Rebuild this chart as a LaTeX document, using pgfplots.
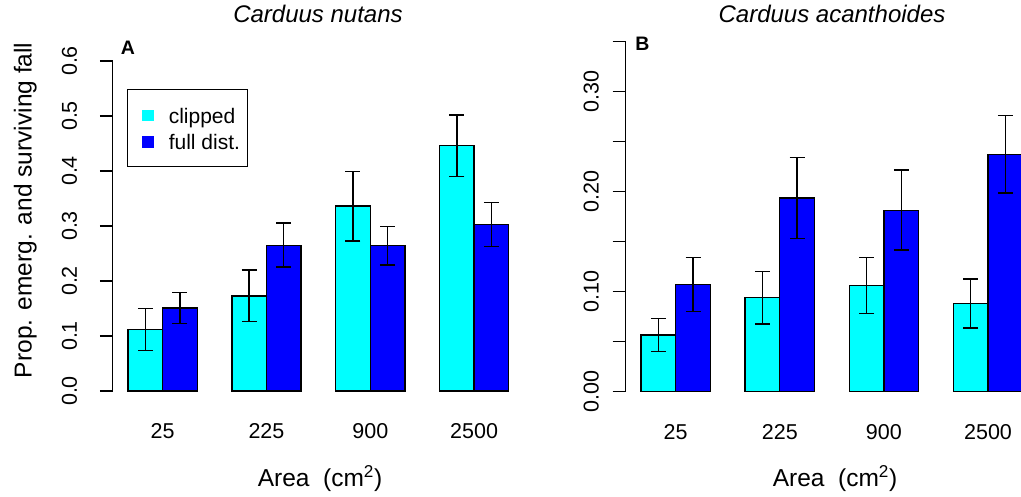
\documentclass[border=0pt]{standalone}
\usepackage{fontspec}
\setmainfont{Liberation Sans}
\usepackage{pgfplots}
\pgfplotsset{compat=1.18}
\definecolor{rcyan}{RGB}{0,255,255}
\definecolor{rblue}{RGB}{0,0,255}

\pgfplotsset{
  rpanel/.style={
    scale only axis, clip=false,
    xmin=0.56, xmax=12.44, ymin=0,
    axis x line=bottom, axis y line=left,
    x axis line style={draw=none},
    y axis line style={-, line width=1.4pt, black},
    xtick={2,5,8,11}, xticklabels={25,225,900,2500},
    xtick style={draw=none},
    ytick style={line width=1.4pt, black},
    tick align=outside, major tick length=13pt,
    tick label style={font=\fontsize{21.5}{25}\selectfont},
    xticklabel style={anchor=base, yshift=-34.8pt},
    xlabel={Area\ \ (cm\textsuperscript{2})},
    label style={font=\fontsize{24.5}{28}\selectfont},
    title style={anchor=base, font=\fontsize{24}{28}\selectfont\itshape},
  },
  rbar/.style={ybar, bar width=1, bar shift=0pt, draw=black, line width=1.4pt,
    error bars/y dir=both, error bars/y explicit,
    error bars/error bar style={line width=1.5pt, solid, draw=black},
    error bars/error mark options={rotate=90, line width=1.5pt, black, mark size=7.5pt}},
}

\begin{document}
\begin{tikzpicture}
% panel A
\begin{axis}[rpanel, at={(112.76pt,106pt)}, anchor=south west,
  width=411.2pt, height=330pt, ymax=0.6,
  ytick={0,0.1,0.2,0.3,0.4,0.5,0.6},
  yticklabels={0.0,0.1,0.2,0.3,0.4,0.5,0.6},
  yticklabel style={xshift=-22.8pt, rotate=90, anchor=base},
  title={Carduus nutans},
  title style={at={(axis description cs:0.4991,1.0991)}},
  ylabel={Prop. emerg. and surviving fall},
  ylabel style={at={(axis description cs:-0.1976,0.5476)}, anchor=base},
  xlabel style={at={(axis description cs:0.504,-0.29)}, anchor=base},
  legend cell align=left,
  legend style={at={(axis description cs:0.0339,0.915)}, anchor=north west,
    draw=black, line width=1.4pt, fill=white,
    font=\fontsize{21}{25}\selectfont,
    inner xsep=7.5pt, inner ysep=12.3pt, row sep=1pt, column sep=15pt,
    nodes={inner sep=0pt, text height=21pt, text depth=4.5pt, anchor=base west}},
]
\addplot[rbar, fill=rcyan,
  legend image code/.code={\path (-7.5pt,0pt); \fill[rcyan] (0pt,2.5pt) rectangle (10pt,12.5pt);}]
  coordinates {(1.5,0.112) +- (0,0.038) (4.5,0.173) +- (0,0.047)
               (7.5,0.336) +- (0,0.063) (10.5,0.446) +- (0,0.056)};
\addlegendentry{clipped}
\addplot[rbar, fill=rblue,
  legend image code/.code={\path (-7.5pt,0pt); \fill[rblue] (0pt,2.5pt) rectangle (10pt,12.5pt);}]
  coordinates {(2.5,0.151) +- (0,0.028) (5.5,0.265) +- (0,0.040)
               (8.5,0.264) +- (0,0.035) (11.5,0.303) +- (0,0.040)};
\addlegendentry{full dist.}
\node[anchor=base, font=\fontsize{19.5}{23}\selectfont\bfseries] at (axis cs:1,0.611) {A};
\end{axis}
% panel B
\begin{axis}[rpanel, at={(625.7pt,105.7pt)}, anchor=south west,
  width=412.3pt, height=349.6pt, ymax=0.35,
  ytick={0,0.05,0.1,0.15,0.2,0.25,0.3,0.35},
  yticklabels={0.00,,0.10,,0.20,,0.30,},
  yticklabel style={xshift=-14pt, rotate=90, anchor=base},
  title={Carduus acanthoides},
  title style={at={(axis description cs:0.5004,1.0383)}},
  xlabel style={at={(axis description cs:0.5076,-0.2729)}, anchor=base},
]
\addplot[rbar, fill=rcyan]
  coordinates {(1.5,0.0563) +- (0,0.0167) (4.5,0.0937) +- (0,0.0263)
               (7.5,0.106) +- (0,0.028) (10.5,0.0877) +- (0,0.0245)};
\addplot[rbar, fill=rblue]
  coordinates {(2.5,0.1067) +- (0,0.027) (5.5,0.1937) +- (0,0.0405)
               (8.5,0.1813) +- (0,0.040) (11.5,0.2373) +- (0,0.0388)};
\node[anchor=base, font=\fontsize{19.5}{23}\selectfont\bfseries] at (axis cs:1.04,0.3413) {B};
\end{axis}
\pgfresetboundingbox
\useasboundingbox (0pt,0pt) rectangle (1021pt,497pt);
\end{tikzpicture}
\end{document}
